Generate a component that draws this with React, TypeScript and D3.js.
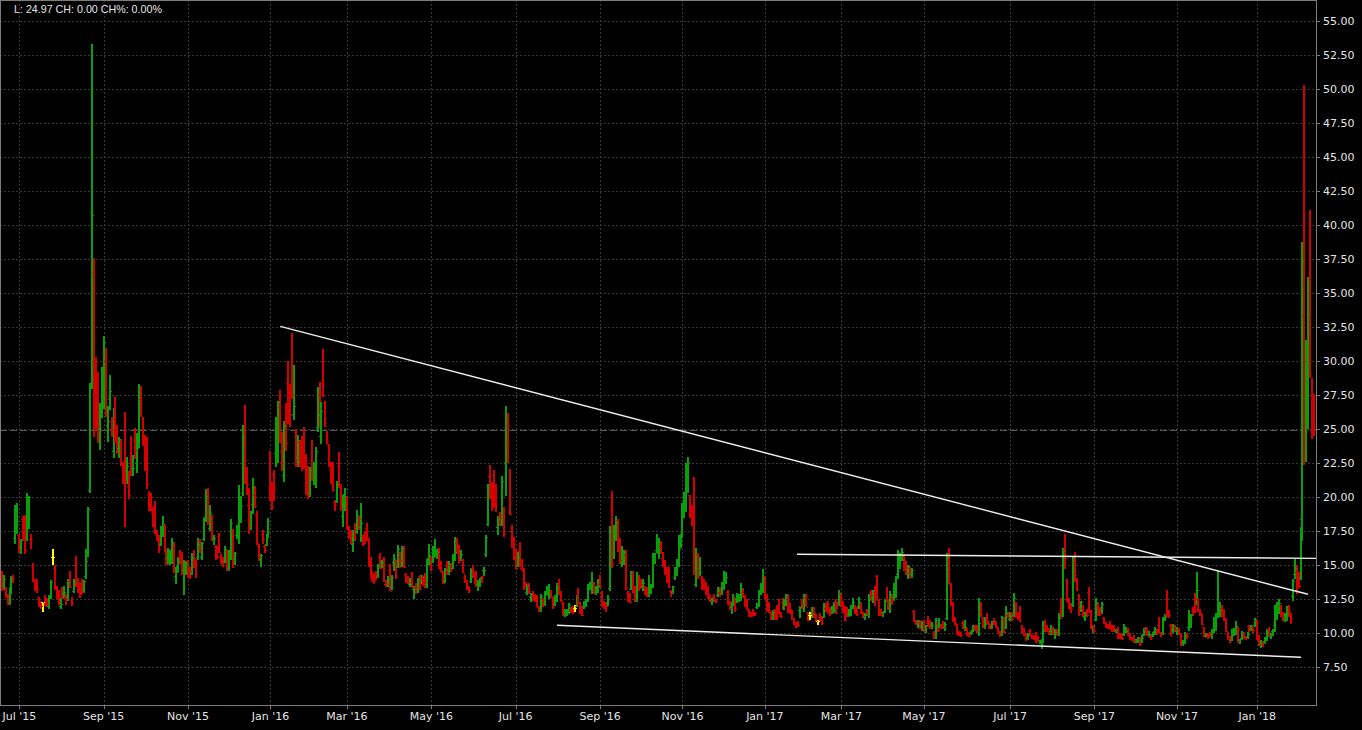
import * as d3 from "d3";
import React, { useRef, useEffect } from "react";

const width = 1362;
const height = 730;
const plot = { left: 0, top: 0, right: 1316, bottom: 705 };

const upColor = "#08a008";
const downColor = "#d20000";
const flatColor = "#ffff00";

// daily VIX bars: [open, high, low, close], Jun 18 2015 .. Feb 13 2018
const vix2015 = [
	// Jun
	[14.4, 14.6, 13.1, 13.19], [13.5, 14.3, 13.2, 13.96], [13.3, 13.4, 12.6, 12.74], [12.8, 12.9, 12.1, 12.11],
	[12.2, 13.4, 12.1, 13.26], [13.3, 14.2, 12.9, 14.01], [14.1, 14.3, 13.7, 14.02], [17.0, 19.4, 16.6, 18.85],
	[17.6, 19.6, 17.3, 18.23],
	// Jul
	[17.2, 17.3, 15.9, 16.09], [16.3, 16.9, 15.8, 16.79], [18.4, 18.6, 16.8, 17.01], [17.3, 18.7, 15.8, 16.09],
	[17.0, 20.3, 16.8, 19.66], [18.2, 20.1, 17.7, 19.97], [16.9, 17.3, 16.2, 16.83], [14.9, 15.2, 13.8, 13.9],
	[13.9, 14.0, 13.1, 13.37], [13.4, 14.0, 13.0, 13.23], [12.6, 12.7, 11.9, 11.95], [12.0, 12.4, 11.8, 11.95],
	[12.25, 12.3, 11.6, 12.25], [12.3, 12.8, 12.0, 12.22], [12.4, 12.6, 11.9, 12.12], [12.0, 12.8, 11.8, 12.64],
	[12.7, 13.9, 12.5, 13.74], [15.6, 16.2, 15.0, 15.6], [14.8, 15.0, 13.2, 13.44], [13.3, 13.5, 12.5, 12.5],
	[12.6, 13.2, 12.1, 12.13], [12.0, 12.6, 11.8, 12.12],
	// Aug
	[12.8, 13.4, 12.5, 12.56], [12.9, 13.5, 12.6, 13.0], [12.6, 12.9, 12.1, 12.51], [12.6, 14.0, 12.4, 13.77],
	[13.8, 14.6, 13.3, 13.39], [12.4, 12.7, 12.0, 12.23], [13.1, 14.0, 13.0, 13.71], [15.0, 15.7, 13.4, 13.61],
	[13.5, 14.1, 13.0, 13.49], [13.6, 13.7, 12.6, 12.83], [13.6, 14.0, 12.9, 13.02], [13.2, 13.9, 13.0, 13.79],
	[14.2, 16.2, 14.0, 15.25], [15.7, 19.3, 15.6, 19.14], [20.5, 28.4, 20.3, 28.03], [28.0, 53.3, 28.0, 40.74],
	[36.5, 37.6, 24.4, 27.0], [29.8, 30.3, 25.0, 26.5], [27.5, 29.2, 24.0, 24.9], [25.0, 26.9, 23.5, 26.05],
	[26.5, 29.6, 25.8, 28.43],
	// Sep
	[29.0, 31.9, 26.5, 31.4], [30.0, 31.0, 25.9, 26.09], [25.3, 26.7, 24.1, 25.61], [27.2, 29.0, 26.4, 27.8],
	[25.0, 25.9, 24.4, 24.9], [23.4, 26.6, 22.9, 26.23], [25.7, 27.4, 24.0, 24.37], [24.6, 25.3, 23.2, 23.2],
	[23.6, 24.4, 22.9, 24.25], [23.9, 24.3, 22.3, 22.54], [22.4, 22.6, 21.0, 21.35], [22.0, 26.3, 17.8, 21.14],
	[22.0, 23.0, 21.0, 22.28], [20.8, 21.9, 19.9, 20.14], [22.7, 24.5, 21.6, 22.44], [22.1, 23.1, 21.6, 22.13],
	[24.1, 25.1, 22.8, 23.47], [22.5, 24.7, 21.8, 23.62], [23.8, 28.3, 23.6, 27.63], [27.2, 28.2, 25.9, 26.83],
	[25.7, 25.9, 23.8, 24.5],
	// Oct
	[24.0, 24.6, 21.9, 22.55], [24.0, 24.4, 20.6, 20.94], [20.2, 20.5, 19.0, 19.54], [19.6, 20.3, 19.0, 19.4],
	[18.8, 19.3, 17.8, 18.4], [19.3, 19.7, 17.3, 17.42], [17.2, 17.6, 16.8, 17.08], [17.0, 17.2, 15.9, 16.17],
	[16.5, 17.9, 16.4, 17.67], [17.7, 18.6, 17.1, 18.03], [17.9, 18.0, 16.0, 16.05], [16.1, 16.2, 15.0, 15.05],
	[15.6, 16.3, 15.1, 15.75], [15.5, 16.1, 15.0, 15.75], [15.4, 17.0, 15.1, 16.7], [16.3, 16.7, 14.4, 14.45],
	[14.2, 14.9, 13.6, 14.46], [14.9, 15.6, 14.5, 15.29], [15.6, 16.1, 15.1, 15.43], [15.5, 16.0, 14.3, 14.33],
	[14.6, 15.4, 12.8, 14.61], [14.5, 15.3, 14.3, 15.07],
	// Nov
	[15.3, 15.4, 14.1, 14.15], [14.6, 14.9, 14.0, 14.54], [14.4, 15.9, 14.3, 15.51], [15.2, 16.1, 14.8, 15.05],
	[15.1, 15.5, 14.1, 14.33], [15.6, 17.0, 15.4, 16.52], [16.8, 16.9, 15.9, 16.06], [15.6, 16.7, 15.4, 16.6],
	[16.9, 18.5, 16.8, 18.37], [18.5, 20.6, 18.2, 20.08], [20.5, 20.7, 18.0, 18.16], [17.7, 19.4, 17.5, 18.84],
	[18.6, 18.7, 16.8, 16.85], [16.9, 17.2, 16.5, 16.99], [16.4, 16.5, 15.4, 15.47], [16.4, 16.4, 15.5, 15.62],
	[17.1, 17.4, 15.9, 15.93], [15.6, 15.8, 15.1, 15.19], [15.3, 15.6, 14.9, 15.12], [15.3, 16.4, 15.2, 16.13],
	// Dec
	[16.0, 16.1, 14.6, 14.67], [14.8, 16.1, 14.6, 15.91], [15.6, 18.4, 15.4, 18.11], [17.5, 17.7, 14.8, 14.81],
	[15.4, 16.0, 15.0, 15.84], [17.2, 18.0, 16.9, 17.6], [17.5, 20.9, 16.6, 19.61], [18.6, 20.1, 18.1, 19.34],
	[20.3, 25.3, 20.1, 24.39], [24.7, 26.8, 21.0, 22.73], [21.1, 22.2, 20.2, 20.95], [19.4, 20.7, 17.3, 17.86],
	[17.9, 19.0, 17.6, 18.94], [19.5, 21.4, 18.8, 20.7], [20.1, 20.8, 19.2, 19.34], [18.7, 19.0, 16.5, 16.6],
	[16.4, 16.6, 15.3, 15.57], [15.4, 15.8, 14.9, 15.74], [17.3, 17.6, 16.6, 16.91], [16.4, 16.5, 15.9, 16.08],
	[16.5, 17.3, 16.4, 17.29], [17.0, 18.5, 17.0, 18.21],
];

const vix2016 = [
	// Jan
	[22.5, 23.4, 19.7, 20.7], [20.4, 21.1, 19.1, 19.34], [21.7, 22.0, 19.7, 20.59], [23.2, 25.9, 22.2, 24.99],
	[22.9, 27.1, 22.5, 27.01], [26.6, 27.9, 24.0, 24.3], [23.4, 24.8, 21.9, 22.47], [21.6, 25.6, 21.1, 25.22],
	[25.4, 26.9, 23.4, 23.95], [28.4, 30.0, 25.4, 27.02], [26.8, 28.3, 25.2, 26.05], [28.5, 32.1, 27.2, 27.59],
	[26.1, 29.7, 25.7, 26.69], [24.8, 25.0, 22.2, 22.34], [22.9, 24.6, 22.2, 24.15], [24.0, 24.2, 22.2, 22.5],
	[23.3, 24.5, 21.9, 23.11], [23.4, 25.2, 22.1, 22.42], [22.7, 23.2, 20.2, 20.2],
	// Feb
	[21.6, 22.3, 19.9, 19.98], [20.3, 22.2, 20.0, 21.98], [22.7, 24.2, 21.2, 21.65], [21.7, 22.6, 20.9, 21.84],
	[21.6, 23.7, 20.7, 23.38], [25.1, 28.1, 24.8, 26.0], [27.5, 28.5, 25.1, 26.54], [24.5, 27.0, 23.9, 26.29],
	[28.4, 30.9, 27.4, 28.14], [26.9, 27.1, 25.2, 25.4], [24.5, 24.9, 23.9, 24.11], [23.8, 23.9, 22.2, 22.31],
	[22.0, 22.6, 21.0, 21.64], [22.0, 22.6, 20.5, 20.53], [19.6, 19.8, 19.0, 19.38], [19.7, 21.2, 19.6, 20.98],
	[22.3, 23.3, 20.7, 20.72], [20.8, 21.0, 19.0, 19.11], [18.6, 20.2, 17.8, 19.81], [20.2, 20.7, 19.0, 20.55],
	// Mar
	[19.9, 20.1, 17.6, 17.7], [17.9, 17.9, 16.9, 17.09], [17.5, 17.6, 16.6, 16.7], [16.5, 17.6, 16.0, 16.86],
	[17.5, 18.1, 16.8, 17.35], [17.5, 19.1, 17.3, 18.67], [18.5, 18.6, 17.6, 18.34], [17.8, 19.6, 16.7, 18.05],
	[17.1, 17.2, 16.4, 16.5], [17.3, 17.5, 16.6, 16.92], [17.7, 18.1, 16.8, 16.84], [16.8, 17.0, 14.9, 14.99],
	[15.1, 15.6, 14.1, 14.44], [14.5, 14.6, 13.8, 14.02], [14.1, 14.4, 13.6, 13.79], [14.3, 14.6, 13.9, 14.17],
	[14.2, 15.1, 14.1, 14.94], [15.6, 15.9, 14.7, 14.74], [15.1, 15.4, 14.8, 15.24], [15.4, 15.6, 13.8, 13.82],
	[13.6, 13.9, 13.4, 13.56], [13.6, 14.2, 13.4, 13.95],
	// Apr
	[14.6, 15.1, 13.1, 13.1], [13.4, 14.3, 13.2, 14.12], [15.2, 15.8, 14.6, 15.42], [15.3, 15.4, 14.0, 14.09],
	[14.9, 16.5, 14.8, 16.16], [15.6, 16.0, 14.8, 15.36], [15.0, 16.4, 14.9, 16.26], [16.3, 16.4, 14.8, 14.85],
	[14.3, 14.4, 13.7, 13.84], [13.9, 14.2, 13.6, 13.72], [13.6, 14.1, 13.4, 13.62], [14.4, 14.5, 13.3, 13.35],
	[13.2, 13.5, 12.5, 13.24], [13.3, 13.7, 12.9, 13.28], [13.2, 14.1, 13.0, 13.95], [14.2, 14.3, 13.2, 13.22],
	[13.8, 14.3, 13.6, 14.08], [14.0, 14.2, 13.5, 13.96], [14.1, 14.4, 13.3, 13.77], [13.6, 15.5, 13.3, 15.22],
	[15.5, 16.6, 15.0, 15.7],
	// May
	[15.5, 15.7, 14.6, 14.68], [15.3, 16.4, 15.2, 15.6], [16.0, 16.9, 15.6, 16.05], [15.8, 16.2, 15.5, 15.91],
	[16.3, 16.3, 14.7, 14.72], [15.2, 15.3, 14.5, 14.57], [14.5, 14.6, 13.6, 13.63], [13.8, 14.8, 13.7, 14.69],
	[14.5, 15.3, 14.3, 14.41], [14.6, 15.3, 14.3, 15.04], [15.0, 15.2, 14.5, 14.68], [14.8, 15.8, 14.7, 15.57],
	[15.6, 17.1, 15.3, 15.95], [16.6, 17.0, 15.8, 16.33], [16.4, 16.5, 15.2, 15.2], [15.6, 16.1, 15.3, 15.82],
	[15.4, 15.5, 14.4, 14.42], [14.1, 14.3, 13.7, 13.9], [13.8, 13.9, 13.2, 13.43], [13.3, 13.4, 13.0, 13.12],
	[13.8, 14.8, 13.7, 14.19],
	// Jun
	[14.8, 15.0, 14.1, 14.2], [14.3, 14.5, 13.6, 13.63], [14.3, 14.6, 13.4, 13.47], [13.6, 13.9, 13.1, 13.65],
	[13.5, 14.1, 13.4, 14.05], [14.1, 14.2, 13.7, 14.08], [14.6, 14.9, 14.2, 14.64], [15.8, 17.2, 15.6, 17.03],
	[18.0, 21.0, 17.9, 20.97], [21.5, 22.4, 19.9, 20.5], [20.3, 21.1, 19.0, 20.14], [21.6, 22.0, 19.2, 19.37],
	[19.6, 21.0, 18.9, 19.41], [17.8, 18.6, 17.2, 18.37], [18.5, 18.9, 17.9, 18.48], [18.0, 21.6, 17.9, 21.17],
	[19.3, 19.3, 17.1, 17.25], [22.5, 26.7, 20.1, 25.76], [25.3, 26.2, 22.5, 23.85], [22.0, 22.1, 18.7, 18.75],
	[17.5, 18.0, 16.3, 16.64], [16.5, 17.1, 15.4, 15.63],
	// Jul
	[15.9, 16.2, 14.7, 14.77], [15.0, 16.0, 14.9, 15.58], [16.0, 16.7, 14.9, 14.96], [14.8, 15.5, 14.6, 14.76],
	[14.7, 14.8, 13.2, 13.2], [13.6, 13.8, 13.4, 13.54], [13.0, 13.6, 12.8, 13.55], [13.6, 13.7, 12.9, 13.04],
	[12.6, 13.0, 12.3, 12.82], [12.8, 13.1, 12.4, 12.67], [12.8, 12.9, 12.3, 12.44], [12.7, 12.8, 11.9, 11.97],
	[11.9, 12.0, 11.6, 11.77], [11.8, 12.9, 11.6, 12.74], [12.5, 12.6, 11.9, 12.02], [12.2, 13.1, 12.0, 12.87],
	[13.0, 13.5, 12.8, 13.05], [12.8, 13.6, 12.5, 12.83], [12.9, 13.2, 12.6, 12.72], [12.6, 12.7, 11.8, 11.87],
	// Aug
	[12.1, 12.8, 12.0, 12.44], [12.4, 13.7, 12.3, 13.37], [13.6, 14.0, 12.8, 12.86], [12.9, 13.1, 12.3, 12.42],
	[12.2, 12.3, 11.3, 11.39], [11.4, 11.8, 11.2, 11.5], [11.5, 11.8, 11.3, 11.66], [11.6, 12.2, 11.4, 12.05],
	[11.7, 11.9, 11.5, 11.68], [11.8, 12.0, 11.4, 11.55], [11.81, 12.1, 11.6, 11.81], [12.0, 12.8, 11.9, 12.64],
	[12.7, 13.3, 12.1, 12.19], [12.2, 12.3, 11.4, 11.43], [11.6, 12.0, 11.3, 11.34], [12.0, 12.4, 11.8, 12.27],
	[11.9, 12.5, 11.9, 12.38], [12.5, 13.6, 12.3, 13.45], [13.5, 13.8, 13.2, 13.63], [13.3, 14.5, 12.9, 13.65],
	[13.7, 13.8, 12.9, 12.94], [13.0, 13.5, 12.8, 13.12], [13.2, 14.0, 13.0, 13.42],
	// Sep
	[13.6, 14.3, 13.3, 13.48], [12.9, 13.1, 11.9, 11.98], [12.3, 12.4, 11.8, 12.02], [12.0, 12.3, 11.6, 11.94],
	[12.2, 12.8, 12.0, 12.51], [13.3, 17.9, 13.1, 17.5], [19.0, 20.5, 14.8, 15.16], [15.8, 18.0, 15.5, 17.85],
	[17.1, 18.6, 16.8, 18.14], [18.3, 18.4, 16.0, 16.3], [16.9, 17.0, 15.1, 15.37], [15.1, 16.4, 14.9, 15.53],
	[15.1, 16.1, 15.0, 15.92], [15.7, 16.1, 13.2, 13.3], [12.9, 13.1, 12.3, 12.45], [12.7, 13.0, 12.2, 12.29],
	[13.2, 14.6, 13.2, 14.5], [14.3, 14.6, 13.0, 13.1], [13.2, 13.5, 12.3, 12.39], [12.4, 14.5, 12.3, 14.02],
	[14.0, 14.3, 13.1, 13.29],
	// Oct
	[13.8, 14.0, 13.3, 13.57], [13.4, 14.0, 13.1, 13.63], [13.4, 13.5, 12.8, 12.99], [13.1, 13.4, 12.7, 12.84],
	[12.9, 14.3, 12.7, 13.48], [13.3, 13.6, 12.9, 13.38], [13.5, 15.9, 13.3, 15.36], [15.5, 15.9, 15.1, 15.91],
	[16.1, 17.3, 15.9, 16.69], [15.9, 17.0, 15.5, 16.12], [16.4, 16.8, 15.8, 16.21], [15.5, 16.0, 14.9, 15.28],
	[15.3, 15.4, 14.3, 14.41], [14.6, 14.9, 13.7, 13.75], [14.4, 14.9, 13.3, 13.34], [13.1, 13.2, 12.7, 13.02],
	[13.0, 13.5, 12.9, 13.46], [14.0, 14.9, 13.9, 14.24], [14.5, 15.5, 14.2, 15.36], [15.0, 17.2, 14.9, 16.19],
	[16.5, 17.2, 16.3, 17.06],
	// Nov
	[17.3, 19.6, 17.0, 18.56], [18.8, 20.4, 18.5, 19.32], [19.4, 22.5, 18.9, 22.08], [22.4, 23.0, 20.3, 22.51],
	[20.1, 20.2, 18.5, 18.71], [18.9, 19.4, 17.9, 18.74], [21.4, 21.5, 14.3, 14.38], [13.6, 16.3, 13.4, 14.74],
	[15.8, 15.9, 14.0, 14.17], [14.4, 15.6, 14.2, 14.48], [14.0, 14.2, 13.2, 13.37], [13.8, 14.0, 13.2, 13.72],
	[13.6, 13.8, 12.8, 12.85], [12.9, 13.5, 12.5, 12.85], [12.5, 12.8, 12.3, 12.42], [12.4, 12.6, 12.1, 12.41],
	[12.6, 12.9, 12.3, 12.43], [12.4, 12.5, 12.2, 12.34], [12.8, 13.4, 12.7, 13.15], [13.0, 13.4, 12.7, 12.9],
	[12.9, 13.8, 12.8, 13.33],
	// Dec
	[13.3, 14.6, 13.2, 14.07], [14.1, 14.5, 13.6, 14.12], [13.0, 13.2, 12.1, 12.14], [12.3, 12.4, 11.7, 11.79],
	[11.9, 12.3, 11.4, 12.22], [12.3, 12.9, 12.0, 12.64], [12.6, 12.6, 11.6, 11.75], [12.5, 13.0, 12.2, 12.64],
	[12.5, 12.9, 12.3, 12.72], [12.8, 13.7, 12.4, 13.19], [13.0, 13.3, 12.6, 12.79], [12.6, 12.8, 11.9, 12.2],
	[12.4, 12.5, 11.7, 11.71], [11.6, 11.8, 11.2, 11.45], [11.5, 11.6, 11.2, 11.27], [11.5, 11.8, 11.3, 11.43],
	[11.6, 11.6, 11.3, 11.44], [11.9, 12.2, 11.8, 11.99], [12.0, 13.2, 11.9, 12.95], [13.0, 13.7, 12.8, 13.37],
	[13.5, 14.7, 13.0, 14.04],
];

const vix2017 = [
	// Jan
	[14.1, 14.2, 12.5, 12.85], [12.8, 12.9, 11.6, 11.85], [11.9, 12.3, 11.5, 11.67], [11.5, 11.6, 11.0, 11.32],
	[11.4, 11.7, 11.0, 11.56], [11.6, 11.8, 11.0, 11.49], [11.6, 12.1, 11.0, 11.26], [11.6, 12.5, 11.4, 11.54],
	[11.3, 11.6, 11.1, 11.23], [12.3, 12.6, 11.7, 11.87], [11.9, 12.5, 11.7, 12.48], [12.3, 12.9, 12.0, 12.78],
	[12.5, 12.9, 11.5, 11.54], [12.0, 12.2, 11.4, 11.77], [11.6, 11.7, 11.0, 11.07], [11.0, 11.1, 10.6, 10.81],
	[10.7, 10.8, 10.4, 10.63], [10.6, 10.9, 10.5, 10.58], [11.7, 12.0, 11.1, 11.88], [12.0, 12.5, 11.8, 11.99],
	// Feb
	[12.0, 12.9, 11.6, 12.88], [12.6, 12.9, 11.9, 11.93], [11.5, 11.6, 10.9, 10.97], [11.3, 11.6, 11.0, 11.3],
	[11.4, 11.9, 11.1, 11.45], [11.5, 11.9, 11.1, 11.45], [11.3, 11.4, 10.8, 10.88], [10.85, 10.95, 10.6, 10.85],
	[11.2, 11.5, 10.9, 11.07], [11.2, 11.3, 10.6, 10.74], [11.2, 12.2, 11.1, 11.97], [11.8, 12.2, 11.6, 11.76],
	[12.3, 12.4, 11.4, 11.49], [11.8, 11.9, 11.3, 11.57], [11.6, 12.0, 11.4, 11.74], [11.6, 12.3, 11.5, 11.71],
	[12.2, 12.5, 11.4, 11.47], [12.1, 12.3, 11.8, 12.09], [12.3, 13.2, 12.0, 12.92],
	// Mar
	[12.9, 13.0, 11.9, 12.54], [12.3, 12.4, 11.5, 11.81], [11.8, 12.0, 10.9, 10.96], [11.5, 11.9, 11.2, 11.24],
	[11.4, 11.8, 11.2, 11.45], [11.5, 12.1, 11.3, 11.86], [12.0, 12.6, 11.8, 12.3], [11.7, 12.1, 11.4, 11.66],
	[11.8, 11.9, 11.3, 11.35], [12.0, 12.7, 11.8, 12.3], [12.1, 12.2, 11.4, 11.63], [11.5, 11.6, 11.1, 11.21],
	[11.2, 11.5, 11.0, 11.28], [11.7, 11.8, 11.3, 11.34], [11.3, 12.9, 11.1, 12.47], [13.0, 13.2, 12.4, 12.81],
	[12.6, 13.2, 12.2, 13.12], [13.0, 13.5, 12.0, 12.96], [14.2, 14.3, 12.5, 12.5], [12.4, 12.5, 11.3, 11.53],
	[11.6, 11.8, 11.3, 11.42], [11.5, 11.6, 11.2, 11.54], [11.6, 12.5, 11.5, 12.37],
	// Apr
	[12.5, 13.4, 12.3, 12.38], [12.4, 12.5, 11.7, 11.79], [11.8, 13.1, 11.5, 12.89], [12.6, 12.9, 12.1, 12.39],
	[12.6, 13.7, 12.4, 12.87], [12.7, 14.2, 12.6, 14.05], [14.3, 16.1, 14.0, 15.07], [15.0, 15.9, 14.7, 15.77],
	[15.5, 16.3, 15.3, 15.96], [15.7, 15.8, 14.6, 14.66], [15.0, 15.3, 14.3, 14.42], [14.4, 15.0, 14.0, 14.93],
	[14.8, 14.9, 14.1, 14.15], [14.3, 14.8, 14.1, 14.63], [11.6, 11.7, 10.8, 10.84], [10.8, 11.0, 10.6, 10.76],
	[10.7, 11.0, 10.4, 10.85], [10.8, 11.0, 10.3, 10.36], [10.4, 10.9, 10.2, 10.82],
	// May
	[10.9, 11.0, 10.1, 10.11], [10.2, 10.6, 10.0, 10.59], [10.7, 11.3, 10.5, 10.68], [10.7, 11.0, 10.3, 10.46],
	[10.5, 10.8, 10.3, 10.57], [10.0, 10.2, 9.6, 9.77], [9.8, 11.1, 9.6, 10.96], [10.7, 10.8, 10.1, 10.21],
	[10.5, 11.1, 10.4, 10.6], [10.5, 10.7, 10.3, 10.4], [10.6, 10.9, 10.3, 10.42], [10.4, 10.8, 10.2, 10.65],
	[11.1, 15.9, 11.0, 15.59], [15.3, 16.3, 13.6, 14.66], [13.6, 13.7, 12.0, 12.04], [12.2, 12.3, 10.8, 10.93],
	[11.0, 11.2, 10.6, 10.72], [10.6, 10.7, 9.9, 10.02], [10.0, 10.2, 9.8, 9.99], [10.0, 10.1, 9.7, 9.81],
	[10.7, 10.9, 10.3, 10.38], [10.4, 11.0, 10.2, 10.41],
	// Jun
	[10.3, 10.4, 9.8, 9.89], [9.9, 10.1, 9.7, 9.75], [10.0, 10.2, 9.9, 10.07], [10.2, 10.6, 10.1, 10.45],
	[10.4, 10.6, 10.2, 10.39], [10.3, 10.6, 10.0, 10.16], [10.1, 12.6, 9.8, 10.7], [11.6, 12.3, 11.2, 11.4],
	[11.1, 11.2, 10.4, 10.42], [10.5, 11.2, 10.3, 10.64], [11.1, 11.5, 10.7, 10.9], [10.7, 10.8, 10.3, 10.38],
	[10.6, 10.7, 10.3, 10.37], [10.4, 10.9, 10.3, 10.86], [10.8, 11.1, 10.6, 10.75], [10.8, 10.9, 10.4, 10.48],
	[10.4, 10.5, 10.0, 10.02], [10.0, 10.2, 9.7, 9.9], [9.9, 11.3, 9.8, 11.06], [11.0, 11.2, 10.0, 10.03],
	[10.4, 12.0, 10.3, 11.44], [11.3, 11.6, 11.1, 11.18],
	// Jul
	[11.0, 11.6, 10.9, 11.22], [11.5, 11.6, 10.9, 11.07], [11.3, 13.0, 11.2, 12.54], [12.2, 12.3, 11.1, 11.19],
	[11.3, 11.6, 11.0, 11.11], [11.2, 12.0, 10.8, 10.89], [10.5, 10.6, 10.0, 10.3], [10.3, 10.4, 9.8, 9.9],
	[9.9, 10.0, 9.4, 9.51], [9.6, 10.0, 9.5, 9.82], [10.1, 10.3, 9.8, 9.89], [9.8, 9.9, 9.6, 9.79],
	[9.8, 9.9, 9.5, 9.58], [9.7, 10.1, 9.3, 9.36], [9.6, 9.8, 9.4, 9.43], [9.4, 9.5, 9.2, 9.43],
	[9.4, 9.6, 8.84, 9.6], [9.5, 10.9, 9.3, 10.11], [10.4, 11.0, 10.1, 10.29], [10.3, 10.6, 10.1, 10.26],
	// Aug
	[10.3, 10.4, 9.9, 10.09], [10.1, 10.6, 9.9, 10.28], [10.3, 10.5, 9.9, 9.95], [9.9, 10.3, 9.6, 10.03],
	[10.2, 10.3, 9.8, 9.93], [9.9, 11.5, 9.8, 11.11], [11.6, 12.6, 11.1, 11.11], [11.3, 16.3, 11.2, 16.04],
	[16.1, 17.3, 14.7, 15.51], [13.9, 14.0, 12.3, 12.33], [12.3, 12.6, 11.8, 12.04], [12.0, 12.2, 11.5, 11.74],
	[12.1, 15.7, 11.9, 15.55], [15.2, 16.0, 13.8, 14.26], [14.1, 14.1, 13.1, 13.19], [12.8, 12.9, 11.3, 11.35],
	[11.9, 12.4, 11.6, 12.25], [11.8, 12.1, 11.2, 11.28], [11.2, 11.6, 10.9, 11.28], [11.6, 11.8, 11.2, 11.32],
	[13.0, 13.4, 11.5, 11.7], [11.6, 11.7, 10.3, 10.33], [10.4, 10.6, 10.0, 10.59],
	// Sep
	[10.6, 10.6, 10.0, 10.13], [11.0, 12.6, 10.9, 12.23], [12.0, 12.3, 11.3, 11.63], [11.6, 11.9, 11.3, 11.55],
	[11.6, 12.3, 11.4, 12.12], [11.1, 11.2, 10.7, 10.73], [10.7, 10.8, 10.4, 10.58], [10.6, 10.7, 10.3, 10.5],
	[10.6, 10.9, 10.3, 10.44], [10.3, 10.6, 10.1, 10.17], [10.2, 10.6, 10.1, 10.15], [10.1, 10.3, 10.0, 10.18],
	[10.2, 10.5, 9.6, 9.78], [9.9, 10.0, 9.6, 9.67], [9.9, 10.0, 9.5, 9.59], [9.9, 10.7, 9.8, 10.21],
	[10.1, 10.5, 10.0, 10.17], [10.3, 10.4, 9.8, 9.87], [9.9, 10.0, 9.5, 9.55], [9.6, 9.7, 9.4, 9.51],
	// Oct
	[9.7, 9.9, 9.3, 9.45], [9.5, 9.6, 9.3, 9.51], [9.5, 9.7, 9.3, 9.63], [9.6, 9.7, 9.1, 9.19],
	[9.5, 9.9, 9.3, 9.65], [9.9, 10.4, 9.8, 10.33], [10.3, 10.5, 9.9, 10.08], [10.2, 10.4, 9.8, 9.85],
	[9.9, 10.2, 9.7, 9.91], [9.7, 9.9, 9.5, 9.61], [9.9, 10.1, 9.7, 9.91], [10.1, 10.5, 9.9, 10.31],
	[10.2, 10.3, 9.9, 10.07], [10.6, 11.2, 10.0, 10.05], [10.0, 10.1, 9.7, 9.97], [10.0, 11.2, 9.9, 11.07],
	[11.1, 11.4, 10.9, 11.16], [11.3, 13.2, 11.2, 11.23], [11.5, 11.7, 11.1, 11.3], [10.6, 10.7, 9.8, 9.8],
	[10.2, 10.7, 10.0, 10.5], [10.4, 10.6, 10.1, 10.18],
	// Nov
	[10.1, 10.5, 9.9, 10.2], [10.3, 10.4, 9.9, 9.93], [9.9, 10.0, 9.1, 9.14], [9.3, 9.5, 9.1, 9.4],
	[9.4, 10.1, 9.2, 9.89], [9.9, 10.0, 9.6, 9.78], [10.4, 11.7, 10.2, 10.5], [10.8, 11.4, 10.4, 11.29],
	[11.6, 11.9, 11.3, 11.5], [11.9, 13.0, 11.5, 11.59], [12.3, 14.5, 12.1, 13.13], [12.5, 12.6, 11.6, 11.76],
	[11.6, 11.8, 11.3, 11.43], [11.3, 11.4, 10.6, 10.65], [10.4, 10.5, 9.7, 9.73], [9.8, 10.0, 9.7, 9.88],
	[9.9, 10.0, 9.6, 9.67], [9.9, 10.1, 9.7, 9.87], [9.9, 10.3, 9.6, 10.03], [10.2, 11.2, 10.0, 10.7],
	[10.5, 11.5, 10.2, 11.28],
	// Dec
	[11.2, 14.6, 11.1, 11.43], [11.5, 12.3, 11.2, 11.68], [11.8, 12.1, 11.2, 11.33], [11.6, 11.8, 10.9, 11.02],
	[11.0, 11.1, 10.1, 10.16], [9.9, 10.1, 9.5, 9.58], [9.6, 9.8, 9.3, 9.34], [9.5, 10.3, 9.4, 10.18],
	[10.0, 10.4, 9.8, 10.18], [10.1, 10.9, 9.9, 10.49], [10.3, 10.5, 9.3, 9.42], [9.5, 9.6, 9.2, 9.53],
	[9.6, 10.2, 9.5, 10.03], [10.0, 10.1, 9.6, 9.72], [9.7, 9.8, 9.5, 9.62], [9.7, 10.1, 9.6, 9.9],
	[10.5, 10.6, 10.1, 10.25], [10.3, 10.6, 10.2, 10.47], [10.4, 10.5, 10.0, 10.18], [10.6, 11.1, 10.5, 11.04],
];

const vix2018 = [
	// Jan
	[10.9, 11.0, 9.5, 9.77], [9.8, 9.9, 9.1, 9.15], [9.2, 9.5, 8.9, 9.22], [9.3, 9.4, 9.0, 9.22],
	[9.4, 9.7, 9.2, 9.52], [9.5, 10.3, 9.4, 10.08], [10.3, 10.5, 9.7, 9.82], [9.8, 10.0, 9.6, 9.88],
	[10.1, 10.3, 9.8, 10.16], [10.6, 12.1, 10.1, 11.66], [11.6, 12.3, 11.0, 11.91], [11.8, 12.5, 11.4, 12.22],
	[12.0, 12.1, 11.2, 11.27], [11.4, 11.6, 10.9, 11.03], [11.0, 11.5, 10.8, 11.1], [11.1, 12.0, 10.9, 11.47],
	[11.6, 12.1, 11.2, 11.58], [11.3, 11.5, 10.7, 11.08], [12.7, 14.0, 12.4, 13.84], [14.3, 15.5, 14.0, 14.79],
	[14.5, 15.0, 12.9, 13.54],
	// Feb
	[14.1, 14.5, 13.3, 13.47], [14.1, 17.8, 13.9, 17.31], [18.4, 38.8, 16.8, 37.32], [33.4, 50.3, 22.4, 29.98],
	[27.3, 31.6, 22.6, 27.73], [26.0, 36.2, 25.0, 33.46], [36.0, 41.1, 28.8, 29.06], [27.5, 28.8, 24.3, 25.61],
	[27.4, 27.6, 24.5, 24.97],
];

const holidays = [
	"2015-07-03", "2015-09-07", "2015-11-26", "2015-12-25", "2016-01-01", "2016-01-18",
	"2016-02-15", "2016-03-25", "2016-05-30", "2016-07-04", "2016-09-05", "2016-11-24",
	"2016-12-26", "2017-01-02", "2017-01-16", "2017-02-20", "2017-04-14", "2017-05-29",
	"2017-07-04", "2017-09-04", "2017-11-23", "2017-12-25", "2018-01-01", "2018-01-15",
];

const yTicks = [7.5, 10, 12.5, 15, 17.5, 20, 22.5, 25, 27.5, 30, 32.5, 35, 37.5, 40, 42.5, 45, 47.5, 50, 52.5, 55];
const lastValue = 24.97;

// hand drawn trend lines: [bar index, value] pairs
const trendLines = [
	[[142, 32.57], [665.8, 12.87]],
	[[405.4, 15.81], [669.9, 15.51]],
	[[283, 10.59], [662.3, 8.24]],
];

const App = () => {
	const d3Container = useRef<SVGSVGElement>(null);

	useEffect(() => {
		if (d3Container.current) {
			const svg = d3.select(d3Container.current);
			svg.selectAll("*").remove();
			renderChart(svg);
		}
	}, []);

	const renderChart = (svg: any) => {
		const bars = [...vix2015, ...vix2016, ...vix2017, ...vix2018];
		const holidaySet = new Set(holidays);
		const dayKey = d3.timeFormat("%Y-%m-%d");
		const dates = d3
			.timeDay.range(new Date(2015, 5, 18), new Date(2018, 1, 14))
			.filter((d) => d.getDay() !== 0 && d.getDay() !== 6 && !holidaySet.has(dayKey(d)));

		const xScale = d3.scaleLinear().domain([-0.85, bars.length - 0.1]).range([plot.left, plot.right]);
		const yScale = d3.scaleLinear().domain([4.73, 56.57]).range([plot.bottom, plot.top]);

		// first bar of every other month gets a label
		const monthTicks = dates
			.map((d, i) => ({ d, i }))
			.filter(({ d, i }) => i < bars.length && d.getMonth() % 2 === 0 && (i === 0 || dates[i - 1].getMonth() !== d.getMonth()));
		const tickFormat = d3.timeFormat("%b '%y");

		svg.append("rect").attr("width", width).attr("height", height).attr("fill", "#000");

		const grid = svg
			.append("g")
			.attr("stroke", "#383838")
			.attr("stroke-dasharray", "2,2")
			.attr("shape-rendering", "crispEdges");
		grid
			.selectAll(".hgrid")
			.data(yTicks)
			.join("line")
			.attr("x1", plot.left)
			.attr("x2", plot.right)
			.attr("y1", (d: number) => Math.round(yScale(d)) + 0.5)
			.attr("y2", (d: number) => Math.round(yScale(d)) + 0.5);
		grid
			.selectAll(".vgrid")
			.data(monthTicks)
			.join("line")
			.attr("x1", (d: any) => Math.round(xScale(d.i)) + 0.5)
			.attr("x2", (d: any) => Math.round(xScale(d.i)) + 0.5)
			.attr("y1", plot.top)
			.attr("y2", plot.bottom);

		// last value line
		svg
			.append("line")
			.attr("x1", plot.left)
			.attr("x2", plot.right)
			.attr("y1", Math.round(yScale(lastValue)) + 0.5)
			.attr("y2", Math.round(yScale(lastValue)) + 0.5)
			.attr("stroke", "#5a5a5a")
			.attr("stroke-dasharray", "7,3")
			.attr("shape-rendering", "crispEdges");

		const barColor = (d: number[]) => (d[3] > d[0] ? upColor : d[3] < d[0] ? downColor : flatColor);

		const barGroup = svg.append("g").attr("shape-rendering", "crispEdges");
		barGroup
			.selectAll(".bar")
			.data(bars)
			.join("rect")
			.attr("class", "bar")
			.attr("x", (d: any, i: number) => xScale(i) - 1)
			.attr("width", 2)
			.attr("y", (d: number[]) => yScale(Math.max(d[1], d[0], d[3])))
			.attr("height", (d: number[]) => Math.max(1, yScale(Math.min(d[2], d[0], d[3])) - yScale(Math.max(d[1], d[0], d[3]))))
			.attr("fill", barColor);
		barGroup
			.selectAll(".open")
			.data(bars)
			.join("rect")
			.attr("class", "open")
			.attr("x", (d: any, i: number) => xScale(i) - 2)
			.attr("width", 1)
			.attr("y", (d: number[]) => yScale(d[0]) - 0.5)
			.attr("height", 1)
			.attr("fill", barColor);
		barGroup
			.selectAll(".close")
			.data(bars)
			.join("rect")
			.attr("class", "close")
			.attr("x", (d: any, i: number) => xScale(i) + 1)
			.attr("width", 1)
			.attr("y", (d: number[]) => yScale(d[3]) - 0.5)
			.attr("height", 1)
			.attr("fill", barColor);

		const line = d3
			.line<number[]>()
			.x((p) => xScale(p[0]))
			.y((p) => yScale(p[1]));
		svg
			.append("g")
			.selectAll("path")
			.data(trendLines)
			.join("path")
			.attr("d", (d: any) => line(d))
			.attr("fill", "none")
			.attr("stroke", "#eeeeee")
			.attr("stroke-width", 1.4);

		// frame
		svg
			.append("rect")
			.attr("x", plot.left + 0.5)
			.attr("y", plot.top + 0.5)
			.attr("width", plot.right - plot.left)
			.attr("height", plot.bottom - plot.top)
			.attr("fill", "none")
			.attr("stroke", "#7c7c7c")
			.attr("shape-rendering", "crispEdges");

		// right axis
		const yAxis = svg.append("g");
		yAxis
			.selectAll("line")
			.data(yTicks)
			.join("line")
			.attr("x1", plot.right + 1)
			.attr("x2", plot.right + 4)
			.attr("y1", (d: number) => Math.round(yScale(d)) + 0.5)
			.attr("y2", (d: number) => Math.round(yScale(d)) + 0.5)
			.attr("stroke", "#7c7c7c")
			.attr("shape-rendering", "crispEdges");
		yAxis
			.selectAll("text")
			.data(yTicks)
			.join("text")
			.attr("x", plot.right + 7)
			.attr("y", (d: number) => yScale(d) + 4)
			.attr("fill", "#e4e4e4")
			.attr("font-family", "DejaVu Sans")
			.attr("font-size", 11)
			.text((d: number) => d.toFixed(2));

		// bottom axis
		const xAxis = svg.append("g");
		xAxis
			.selectAll("line")
			.data(monthTicks)
			.join("line")
			.attr("x1", (d: any) => Math.round(xScale(d.i)) + 0.5)
			.attr("x2", (d: any) => Math.round(xScale(d.i)) + 0.5)
			.attr("y1", plot.bottom + 1)
			.attr("y2", plot.bottom + 4)
			.attr("stroke", "#7c7c7c")
			.attr("shape-rendering", "crispEdges");
		xAxis
			.selectAll("text")
			.data(monthTicks)
			.join("text")
			.attr("x", (d: any) => xScale(d.i))
			.attr("y", 720)
			.attr("text-anchor", "middle")
			.attr("fill", "#e4e4e4")
			.attr("font-family", "DejaVu Sans")
			.attr("font-size", 11)
			.text((d: any) => tickFormat(d.d));

		svg
			.append("text")
			.attr("x", 14)
			.attr("y", 13)
			.attr("fill", "#e4e4e4")
			.attr("font-family", "Liberation Sans, Arial, sans-serif")
			.attr("font-size", 10.7)
			.text(`L: ${lastValue.toFixed(2)} CH: 0.00 CH%: 0.00%`);
	};

	return (
		<div style={{ width, height, background: "#000" }}>
			<style>{`body { margin: 0; background: #000; }`}</style>
			<svg ref={d3Container} width={width} height={height} style={{ display: "block" }} />
		</div>
	);
};

export default App;
